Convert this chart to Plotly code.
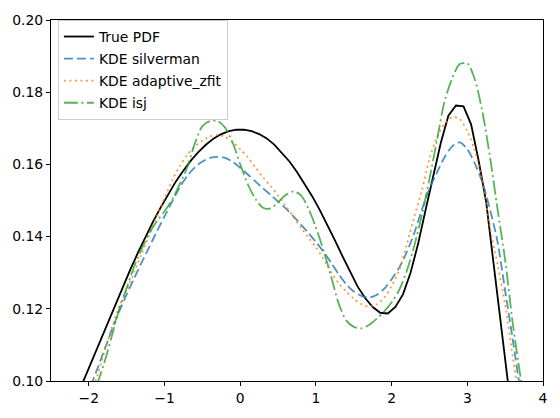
import plotly.graph_objects as go

# True PDF samples
x_true = [-2.15, -2.05, -1.95, -1.85, -1.75, -1.65, -1.55, -1.45, -1.35, -1.25,
          -1.15, -1.05, -0.95, -0.85, -0.75, -0.65, -0.55, -0.45, -0.35, -0.25,
          -0.15, -0.05, 0.05, 0.15, 0.25, 0.35, 0.45, 0.55, 0.65, 0.75,
          0.85, 0.95, 1.05, 1.15, 1.25, 1.35, 1.45, 1.55, 1.65, 1.75,
          1.85, 1.95, 2.05, 2.15, 2.25, 2.35, 2.45, 2.55, 2.65, 2.75,
          2.85, 2.95, 3.05, 3.15, 3.25, 3.35, 3.45, 3.55, 3.65]
y_true = [0.0961, 0.1011, 0.1062, 0.1113, 0.1164, 0.1214, 0.1262, 0.1310, 0.1356, 0.1400,
          0.1442, 0.1481, 0.1519, 0.1553, 0.1583, 0.1611, 0.1635, 0.1655, 0.1672, 0.1684,
          0.1692, 0.1696, 0.1696, 0.1692, 0.1684, 0.1672, 0.1655, 0.1633, 0.1608, 0.1579,
          0.1547, 0.1512, 0.1474, 0.1433, 0.1390, 0.1346, 0.1302, 0.1262, 0.1230, 0.1205,
          0.1189, 0.1187, 0.1205, 0.1240, 0.1300, 0.1380, 0.1475, 0.1570, 0.1660, 0.1735,
          0.1763, 0.1761, 0.1711, 0.1610, 0.1495, 0.1320, 0.1145, 0.0970, 0.0800]

# KDE grid
x_kde = [-2.1, -2.0, -1.9, -1.8, -1.7, -1.6, -1.5, -1.4, -1.3, -1.2,
         -1.1, -1.0, -0.9, -0.8, -0.7, -0.6, -0.5, -0.4, -0.3, -0.2,
         -0.1, 0.0, 0.1, 0.2, 0.3, 0.4, 0.5, 0.6, 0.7, 0.8,
         0.9, 1.0, 1.1, 1.2, 1.3, 1.4, 1.5, 1.6, 1.7, 1.8,
         1.9, 2.0, 2.1, 2.2, 2.3, 2.4, 2.5, 2.6, 2.7, 2.8,
         2.9, 3.0, 3.1, 3.2, 3.3, 3.4, 3.5, 3.6, 3.7, 3.8]

y_silverman = [0.0920, 0.0972, 0.1027, 0.1083, 0.1140, 0.1192, 0.1240, 0.1285, 0.1329, 0.1372,
               0.1415, 0.1456, 0.1497, 0.1536, 0.1568, 0.1592, 0.1608, 0.1618, 0.1621, 0.1618,
               0.1607, 0.1590, 0.1572, 0.1553, 0.1534, 0.1516, 0.1497, 0.1478, 0.1457, 0.1434,
               0.1410, 0.1385, 0.1358, 0.1328, 0.1296, 0.1268, 0.1248, 0.1236, 0.1231, 0.1238,
               0.1255, 0.1282, 0.1314, 0.1357, 0.1410, 0.1475, 0.1533, 0.1578, 0.1620, 0.1650,
               0.1661, 0.1642, 0.1602, 0.1550, 0.1475, 0.1385, 0.1250, 0.1115, 0.0975, 0.0850]

y_adaptive = [0.0900, 0.0952, 0.1007, 0.1077, 0.1145, 0.1205, 0.1252, 0.1302, 0.1353, 0.1405,
              0.1458, 0.1507, 0.1555, 0.1595, 0.1627, 0.1650, 0.1666, 0.1677, 0.1682, 0.1676,
              0.1662, 0.1642, 0.1620, 0.1592, 0.1565, 0.1540, 0.1514, 0.1485, 0.1455, 0.1425,
              0.1398, 0.1370, 0.1338, 0.1302, 0.1271, 0.1248, 0.1228, 0.1213, 0.1206, 0.1212,
              0.1230, 0.1263, 0.1307, 0.1378, 0.1455, 0.1528, 0.1615, 0.1675, 0.1712, 0.1731,
              0.1725, 0.1692, 0.1638, 0.1553, 0.1425, 0.1322, 0.1212, 0.1068, 0.0930, 0.0810]

y_isj = [0.0870, 0.0925, 0.0985, 0.1048, 0.1122, 0.1198, 0.1258, 0.1318, 0.1367, 0.1410,
         0.1443, 0.1470, 0.1502, 0.1545, 0.1592, 0.1658, 0.1706, 0.1720, 0.1720, 0.1702,
         0.1660, 0.1600, 0.1545, 0.1505, 0.1480, 0.1478, 0.1495, 0.1515, 0.1525, 0.1515,
         0.1478, 0.1425, 0.1362, 0.1290, 0.1215, 0.1168, 0.1150, 0.1146, 0.1155, 0.1172,
         0.1192, 0.1218, 0.1252, 0.1305, 0.1375, 0.1460, 0.1560, 0.1668, 0.1775, 0.1838,
         0.1878, 0.1880, 0.1835, 0.1745, 0.1620, 0.1475, 0.1335, 0.1160, 0.1015, 0.0880]

x_ticks = [-2, -1, 0, 1, 2, 3, 4]
x_tick_text = ["\u22122", "\u22121", "0", "1", "2", "3", "4"]
y_ticks = [0.10, 0.12, 0.14, 0.16, 0.18, 0.20]
y_tick_text = ["0.10", "0.12", "0.14", "0.16", "0.18", "0.20"]

LW = 1.8
fig = go.Figure()
fig.add_trace(go.Scatter(x=x_true, y=y_true, mode="lines", name="True PDF", legendgroup="a",
                         line=dict(color="black", width=LW)))
fig.add_trace(go.Scatter(x=x_kde, y=y_silverman, mode="lines", name="KDE silverman", legendgroup="b",
                         line=dict(color="rgba(31,119,180,0.8)", width=LW, dash="9px,4px",
                                   shape="spline", smoothing=0.8)))
fig.add_trace(go.Scatter(x=x_kde, y=y_adaptive, mode="lines", name="KDE adaptive_zfit", legendgroup="c",
                         line=dict(color="rgba(255,127,14,0.8)", width=LW, dash="2px,3.5px",
                                   shape="spline", smoothing=0.8)))
fig.add_trace(go.Scatter(x=x_kde, y=y_isj, mode="lines", name="KDE isj", legendgroup="d",
                         line=dict(color="rgba(44,160,44,0.8)", width=LW,
                                   dash="14px,3.5px,2px,3.5px",
                                   shape="spline", smoothing=0.8)))

axis_common = dict(showline=True, linecolor="black", linewidth=1, mirror=True,
                   ticks="outside", ticklen=4, tickwidth=1, tickcolor="black",
                   showgrid=False, zeroline=False,
                   tickfont=dict(family="DejaVu Sans", size=13.9, color="black"))

fig.update_layout(
    width=560, height=418,
    margin=dict(l=51, r=13, t=15, b=34),
    plot_bgcolor="white", paper_bgcolor="white",
    xaxis=dict(range=[-2.5, 4], tickvals=x_ticks, ticktext=x_tick_text, **axis_common),
    yaxis=dict(range=[0.10, 0.20], tickvals=y_ticks, ticktext=y_tick_text, **axis_common),
    legend=dict(x=0.014, y=1.0, xanchor="left", yanchor="top",
                bgcolor="rgba(255,255,255,0.8)", bordercolor="#cccccc", borderwidth=1,
                font=dict(family="DejaVu Sans", size=13.9, color="black"),
                tracegroupgap=1),
    showlegend=True,
)

fig.write_html("out.html")
